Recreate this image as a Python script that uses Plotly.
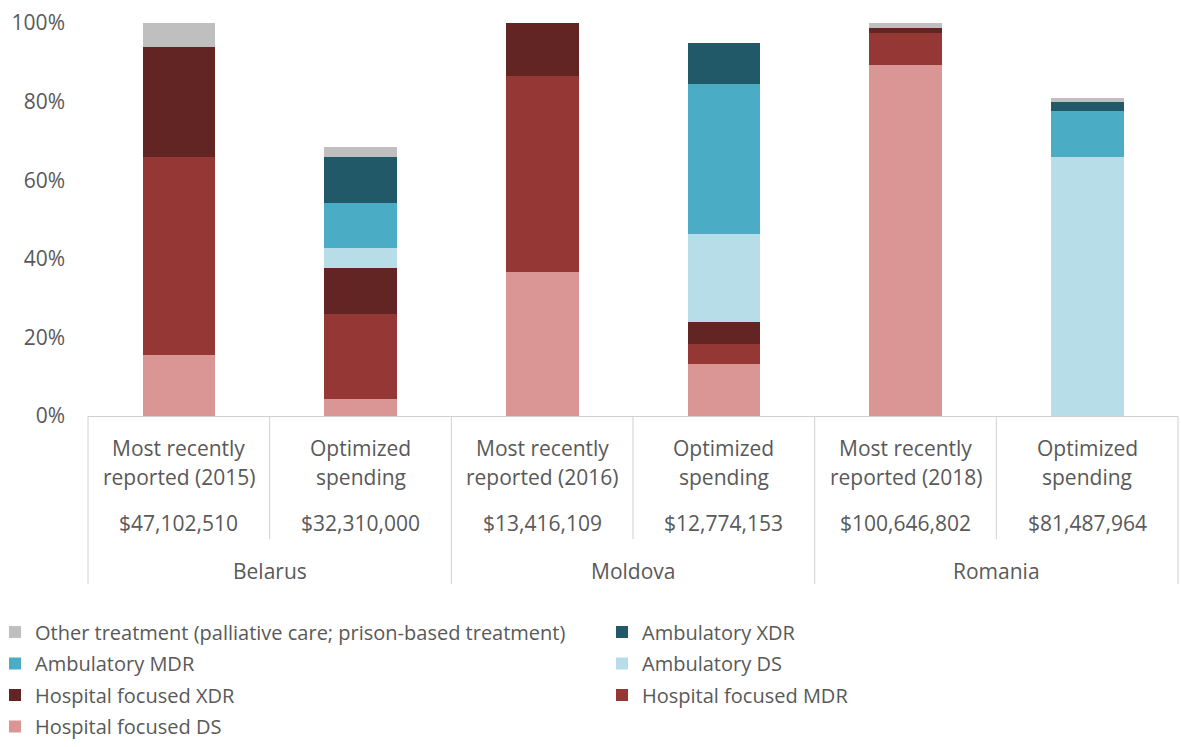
import plotly.graph_objects as go

# ---- data ----
countries = ["Belarus", "Moldova", "Romania"]
scenario_line1 = ["Most recently", "Optimized", "Most recently", "Optimized", "Most recently", "Optimized"]
scenario_line2 = ["reported (2015)", "spending", "reported (2016)", "spending", "reported (2018)", "spending"]
spending = ["$47,102,510", "$32,310,000", "$13,416,109", "$12,774,153", "$100,646,802", "$81,487,964"]
bar_country = ["Belarus", "Belarus", "Moldova", "Moldova", "Romania", "Romania"]

# shares (%) per bar, bottom to top of the stack
hospital_ds = [15.4, 4.4, 36.6, 13.2, 89.4, 0.0]
hospital_mdr = [50.5, 21.5, 49.8, 5.2, 8.0, 0.0]
hospital_xdr = [28.0, 11.7, 13.6, 5.5, 1.3, 0.0]
ambulatory_ds = [0.0, 5.1, 0.0, 22.4, 0.0, 65.9]
ambulatory_mdr = [0.0, 11.4, 0.0, 38.1, 0.0, 11.6]
ambulatory_xdr = [0.0, 11.8, 0.0, 10.6, 0.0, 2.3]
other_treatment = [6.1, 2.6, 0.0, 0.0, 1.3, 1.0]

# (name, values, colour, legend column, rank within column)
series = [
    ("Hospital focused DS", hospital_ds, "#d99694", "legend", 4),
    ("Hospital focused MDR", hospital_mdr, "#953735", "legend2", 3),
    ("Hospital focused XDR", hospital_xdr, "#632523", "legend", 3),
    ("Ambulatory DS", ambulatory_ds, "#b7dee8", "legend2", 2),
    ("Ambulatory MDR", ambulatory_mdr, "#4bacc6", "legend", 2),
    ("Ambulatory XDR", ambulatory_xdr, "#215968", "legend2", 1),
    ("Other treatment (palliative care; prison-based treatment)", other_treatment, "#bfbfbf", "legend", 1),
]

cats = [f"{c} | {a} {b}" for c, a, b in zip(bar_country, scenario_line1, scenario_line2)]

TEXT = "#595959"
FONT = "Open Sans"
W, H = 1181, 747
ML, MR, MT, MB = 88, 3, 22.5, 330.5
PW = W - ML - MR
PH = H - MT - MB

fig = go.Figure()
for name, vals, col, leg, rank in series:
    fig.add_trace(go.Bar(
        x=cats, y=[v / 100 for v in vals], name=name,
        marker=dict(color=col, line=dict(width=0)),
        legend=leg, legendgroup=name, legendrank=rank,
    ))

n = len(cats)
def px_to_paper_y(py):
    return (H - MB - py) / PH

def px_to_paper_x(px):
    return (px - ML) / PW

def edge_paper(pos):
    return (pos + 0.5) / n

shapes = []
line_col = "#d0d0d0"
for i in range(n + 1):
    boundary = i - 0.5
    is_outer = i == 0 or i == n or bar_country[i - 1] != bar_country[i]
    y_end = px_to_paper_y(585 if is_outer else 540)
    shapes.append(dict(type="line", xref="paper", yref="paper",
                       x0=edge_paper(boundary), x1=edge_paper(boundary),
                       y0=0, y1=y_end, line=dict(color=line_col, width=1)))

annotations = []
for i, c in enumerate(cats):
    for txt, py in ((scenario_line1[i], 449), (scenario_line2[i], 478), (spending[i], 524)):
        annotations.append(dict(x=c, xref="x", y=px_to_paper_y(py), yref="paper",
                                text=txt, showarrow=False, xanchor="center", yanchor="middle",
                                font=dict(family=FONT, size=21, color=TEXT)))
for country in countries:
    idx = [i for i, b in enumerate(bar_country) if b == country]
    center = (idx[0] + idx[-1]) / 2
    annotations.append(dict(x=edge_paper(center), xref="paper", y=px_to_paper_y(572), yref="paper",
                            text=country, showarrow=False, xanchor="center", yanchor="middle",
                            font=dict(family=FONT, size=21, color=TEXT)))

legend_common = dict(orientation="v", traceorder="grouped", tracegroupgap=2.5,
                     y=px_to_paper_y(613.5), yanchor="top",
                     font=dict(family=FONT, size=20, color=TEXT), bgcolor="rgba(0,0,0,0)")

fig.update_layout(
    width=W, height=H,
    margin=dict(l=ML, r=MR, t=MT, b=MB, pad=0, autoexpand=False),
    barmode="stack", bargap=0.6,
    plot_bgcolor="white", paper_bgcolor="white",
    font=dict(family=FONT, size=20, color=TEXT),
    xaxis=dict(type="category", range=[-0.5, n - 0.5], showticklabels=False,
               showline=True, linecolor=line_col, linewidth=1, ticks="",
               showgrid=False, zeroline=False, fixedrange=True),
    yaxis=dict(range=[0, 1], tickformat=".0%", dtick=0.2, tick0=0, showgrid=False,
               zeroline=False, showline=False, ticks="", ticklabelstandoff=22,
               tickfont=dict(family=FONT, size=21, color=TEXT)),
    showlegend=True,
    legend=dict(x=px_to_paper_x(-5), xanchor="left", **legend_common),
    legend2=dict(x=px_to_paper_x(602), xanchor="left", **legend_common),
    shapes=shapes, annotations=annotations,
)

fig.write_html("out.html", config={"displayModeBar": False},
               post_script="document.body.style.margin='0';")
